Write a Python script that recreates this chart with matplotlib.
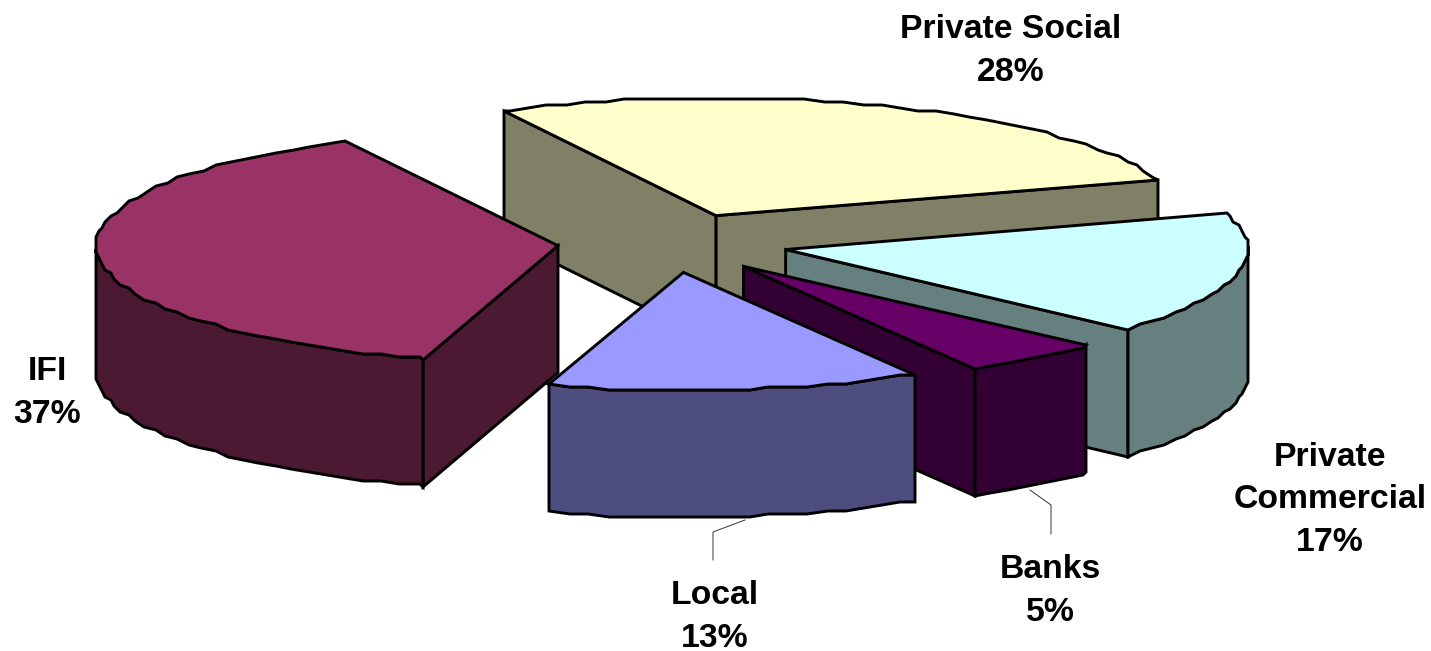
import numpy as np
import matplotlib
matplotlib.use('Agg')
import matplotlib.pyplot as plt
from matplotlib.patches import Polygon

# funding sources, counter-clockwise from the first slice
names = ['Private Social', 'IFI', 'Local', 'Banks', 'Private Commercial']
shares = [28, 37, 13, 5, 17]
label_text = ['Private Social', 'IFI', 'Local', 'Banks', 'Private\nCommercial']

top_colors = ['#FFFFCC', '#993366', '#9999FF', '#660066', '#CCFFFF']
side_colors = ['#808066', '#4C1933', '#4D4D80', '#330033', '#668080']

# drawing order, back slices first
draw_order = [0, 1, 4, 3, 2]

label_pos = [(1011, 51), (47, 393), (715, 617), (1050, 591), (1330, 500)]
leaders = [[(745, 520), (713, 532), (713, 560)],
           [(1030, 490), (1051, 505), (1051, 534)]]

cx, cy = 673, 243
rx, ry = 462, 118
depth = 127
explode = 0.25
start_angle = 17.8
persp = 1.44  # degrees of angle shift between back and front of the disc
grid = 3.0  # rim wobble from snapping points to a coarse grid


def rim_points(t1, t2):
	t = np.append(np.arange(t1, t2, 2.5), t2)
	t = np.radians(t - persp * np.sin(np.radians(t)))
	return rx * np.cos(t), -ry * np.sin(t)


def snap(v):
	return np.round(v / grid) * grid


fig = plt.figure(figsize=(14.31, 6.51), dpi=100)
ax = fig.add_axes([0, 0, 1, 1])
ax.set_xlim(0, 1431)
ax.set_ylim(651, 0)
ax.axis('off')

ends = start_angle + np.cumsum(shares) * 3.6
starts = ends - np.array(shares) * 3.6

for i in draw_order:
	t1, t2 = starts[i], ends[i]
	mid = np.radians((t1 + t2) / 2)
	ox = cx + explode * rx * np.cos(mid)
	oy = cy - explode * ry * np.sin(mid)
	x, y = rim_points(t1, t2)
	x = snap(x + ox)
	y = snap(y + oy)
	style = dict(edgecolor='black', linewidth=2.1, joinstyle='miter')

	# straight walls facing the viewer
	for t, px, py in [(t1, x[0], y[0]), (t2, x[-1], y[-1])]:
		c = np.cos(np.radians(t))
		if (t == t1 and c > 0) or (t == t2 and c < 0):
			wall = [(ox, oy), (px, py), (px, py + depth), (ox, oy + depth)]
			ax.add_patch(Polygon(wall, closed=True, facecolor=side_colors[i], **style))

	# curved outer wall on the front half only
	front = np.sin(np.radians(np.linspace(t1, t2, len(x)))) < 0.02
	if front.any():
		fx, fy = x[front], y[front]
		outer = np.column_stack([np.r_[fx, fx[::-1]], np.r_[fy, fy[::-1] + depth]])
		ax.add_patch(Polygon(outer, closed=True, facecolor=side_colors[i], **style))

	top = np.column_stack([np.r_[ox, x], np.r_[oy, y]])
	ax.add_patch(Polygon(top, closed=True, facecolor=top_colors[i], **style))

for pts in leaders:
	xs, ys = zip(*pts)
	ax.plot(xs, ys, color='#333333', lw=0.7)

for i, (lx, ly) in enumerate(label_pos):
	ax.text(lx, ly, label_text[i] + '\n' + str(shares[i]) + '%', ha='center', va='center',
	        family='Liberation Sans', weight='bold', fontsize=24.3, linespacing=1.48)

fig.savefig('out.png', dpi=100)
